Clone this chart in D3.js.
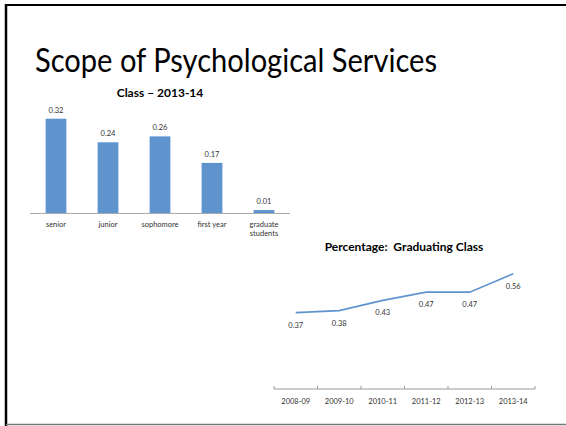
<!DOCTYPE html>
<html>
<head>
<meta charset="utf-8">
<script src="https://cdn.jsdelivr.net/npm/d3@7"></script>
<style>
  body { margin: 0; background: #fff; }
  svg { display: block; font-family: Lato, "Liberation Sans", sans-serif; }
</style>
</head>
<body>
<div id="slide"></div>
<script>
// bar chart data
var classes = ["senior", "junior", "sophomore", "first year", "graduate students"];
var classShare = [0.32, 0.24, 0.26, 0.17, 0.01];

// line chart data
var years = ["2008-09", "2009-10", "2010-11", "2011-12", "2012-13", "2013-14"];
var gradPct = [0.37, 0.38, 0.43, 0.47, 0.47, 0.56];

var width = 566, height = 426;
var blue = "#5f93cd";

var svg = d3.select("#slide").append("svg")
    .attr("width", width)
    .attr("height", height);

// slide frame
svg.append("line").attr("x1", 6).attr("x2", width).attr("y1", 5).attr("y2", 5)
    .attr("stroke", "#000").attr("stroke-width", 2);
svg.append("line").attr("x1", 6).attr("x2", 6).attr("y1", 4).attr("y2", height)
    .attr("stroke", "#000").attr("stroke-width", 2.5);
svg.append("line").attr("x1", 6).attr("x2", width).attr("y1", 424.5).attr("y2", 424.5)
    .attr("stroke", "#777").attr("stroke-width", 1.5);

svg.append("text")
    .attr("x", 35).attr("y", 72)
    .attr("font-size", 32)
    .attr("fill", "#000")
    .attr("textLength", 402)
    .attr("lengthAdjust", "spacingAndGlyphs")
    .text("Scope of Psychological Services");

// ---- bar chart ----
var x = d3.scaleBand()
    .domain(classes)
    .range([30, 290])
    .paddingInner(0.6)
    .paddingOuter(0.3);
var y = d3.scaleLinear()
    .domain([0, 0.32])
    .range([213, 118.7]);

svg.append("text")
    .attr("x", 160).attr("y", 97)
    .attr("text-anchor", "middle")
    .attr("font-size", 12).attr("font-weight", "bold")
    .text("Class \u2013 2013-14");

var bars = classes.map(function (c, i) { return { c: c, v: classShare[i] }; });

svg.append("g").selectAll("rect")
    .data(bars)
    .enter()
    .append("rect")
    .attr("x", d => x(d.c))
    .attr("y", d => y(d.v))
    .attr("width", x.bandwidth())
    .attr("height", d => y(0) - y(d.v))
    .attr("fill", blue);

svg.append("g").selectAll("text")
    .data(bars)
    .enter()
    .append("text")
    .attr("x", d => x(d.c) + x.bandwidth() / 2)
    .attr("y", d => y(d.v) - 6)
    .attr("text-anchor", "middle")
    .attr("font-size", 7.5)
    .attr("fill", "#333")
    .text(d => d.v.toFixed(2));

var xAxis = svg.append("g")
    .attr("transform", "translate(0," + y(0) + ")")
    .call(d3.axisBottom(x).tickSize(0).tickPadding(9));
xAxis.select(".domain").attr("stroke", "#aaa").attr("d", "M30,0.5H290");
xAxis.selectAll("text")
    .attr("font-size", 7.5)
    .attr("fill", "#333")
    .attr("font-family", "Lato, sans-serif")
    .each(function (d) {
        var words = d.split(" ");
        var t = d3.select(this);
        if (d === "graduate students") {
            t.text(null);
            words.forEach(function (w, i) {
                t.append("tspan").attr("x", 0).attr("dy", i === 0 ? "0.71em" : "1.2em").text(w);
            });
        }
    });

// ---- line chart ----
var lx = d3.scaleBand()
    .domain(years)
    .range([274, 535]);
var ly = d3.scaleLinear()
    .domain([0, 0.6])
    .range([388.5, 265.5]);

svg.append("text")
    .attr("x", 404).attr("y", 251)
    .attr("text-anchor", "middle")
    .attr("font-size", 12).attr("font-weight", "bold")
    .style("white-space", "pre")
    .text("Percentage:  Graduating Class");

var pts = years.map(function (yr, i) { return { yr: yr, v: gradPct[i] }; });

svg.append("path")
    .datum(pts)
    .attr("fill", "none")
    .attr("stroke", blue)
    .attr("stroke-width", 1.6)
    .attr("d", d3.line()
        .x(d => lx(d.yr) + lx.bandwidth() / 2)
        .y(d => ly(d.v)));

svg.append("g").selectAll("text")
    .data(pts)
    .enter()
    .append("text")
    .attr("x", d => lx(d.yr) + lx.bandwidth() / 2)
    .attr("y", d => ly(d.v) + 15)
    .attr("text-anchor", "middle")
    .attr("font-size", 7.5)
    .attr("fill", "#333")
    .text(d => d.v.toFixed(2));

var lAxis = svg.append("g")
    .attr("transform", "translate(0," + ly(0) + ")")
    .call(d3.axisBottom(lx).tickSize(0).tickPadding(10));
lAxis.select(".domain").attr("stroke", "#999").attr("d", "M274,0.5H535");
lAxis.selectAll("text")
    .attr("font-size", 7.5)
    .attr("fill", "#333")
    .attr("font-family", "Lato, sans-serif");
// tick marks on band edges
lAxis.selectAll(".edge")
    .data(d3.range(years.length + 1))
    .enter()
    .append("line")
    .attr("x1", i => 274 + i * lx.step())
    .attr("x2", i => 274 + i * lx.step())
    .attr("y1", -2.5).attr("y2", 0.5)
    .attr("stroke", "#999");
</script>
</body>
</html>
